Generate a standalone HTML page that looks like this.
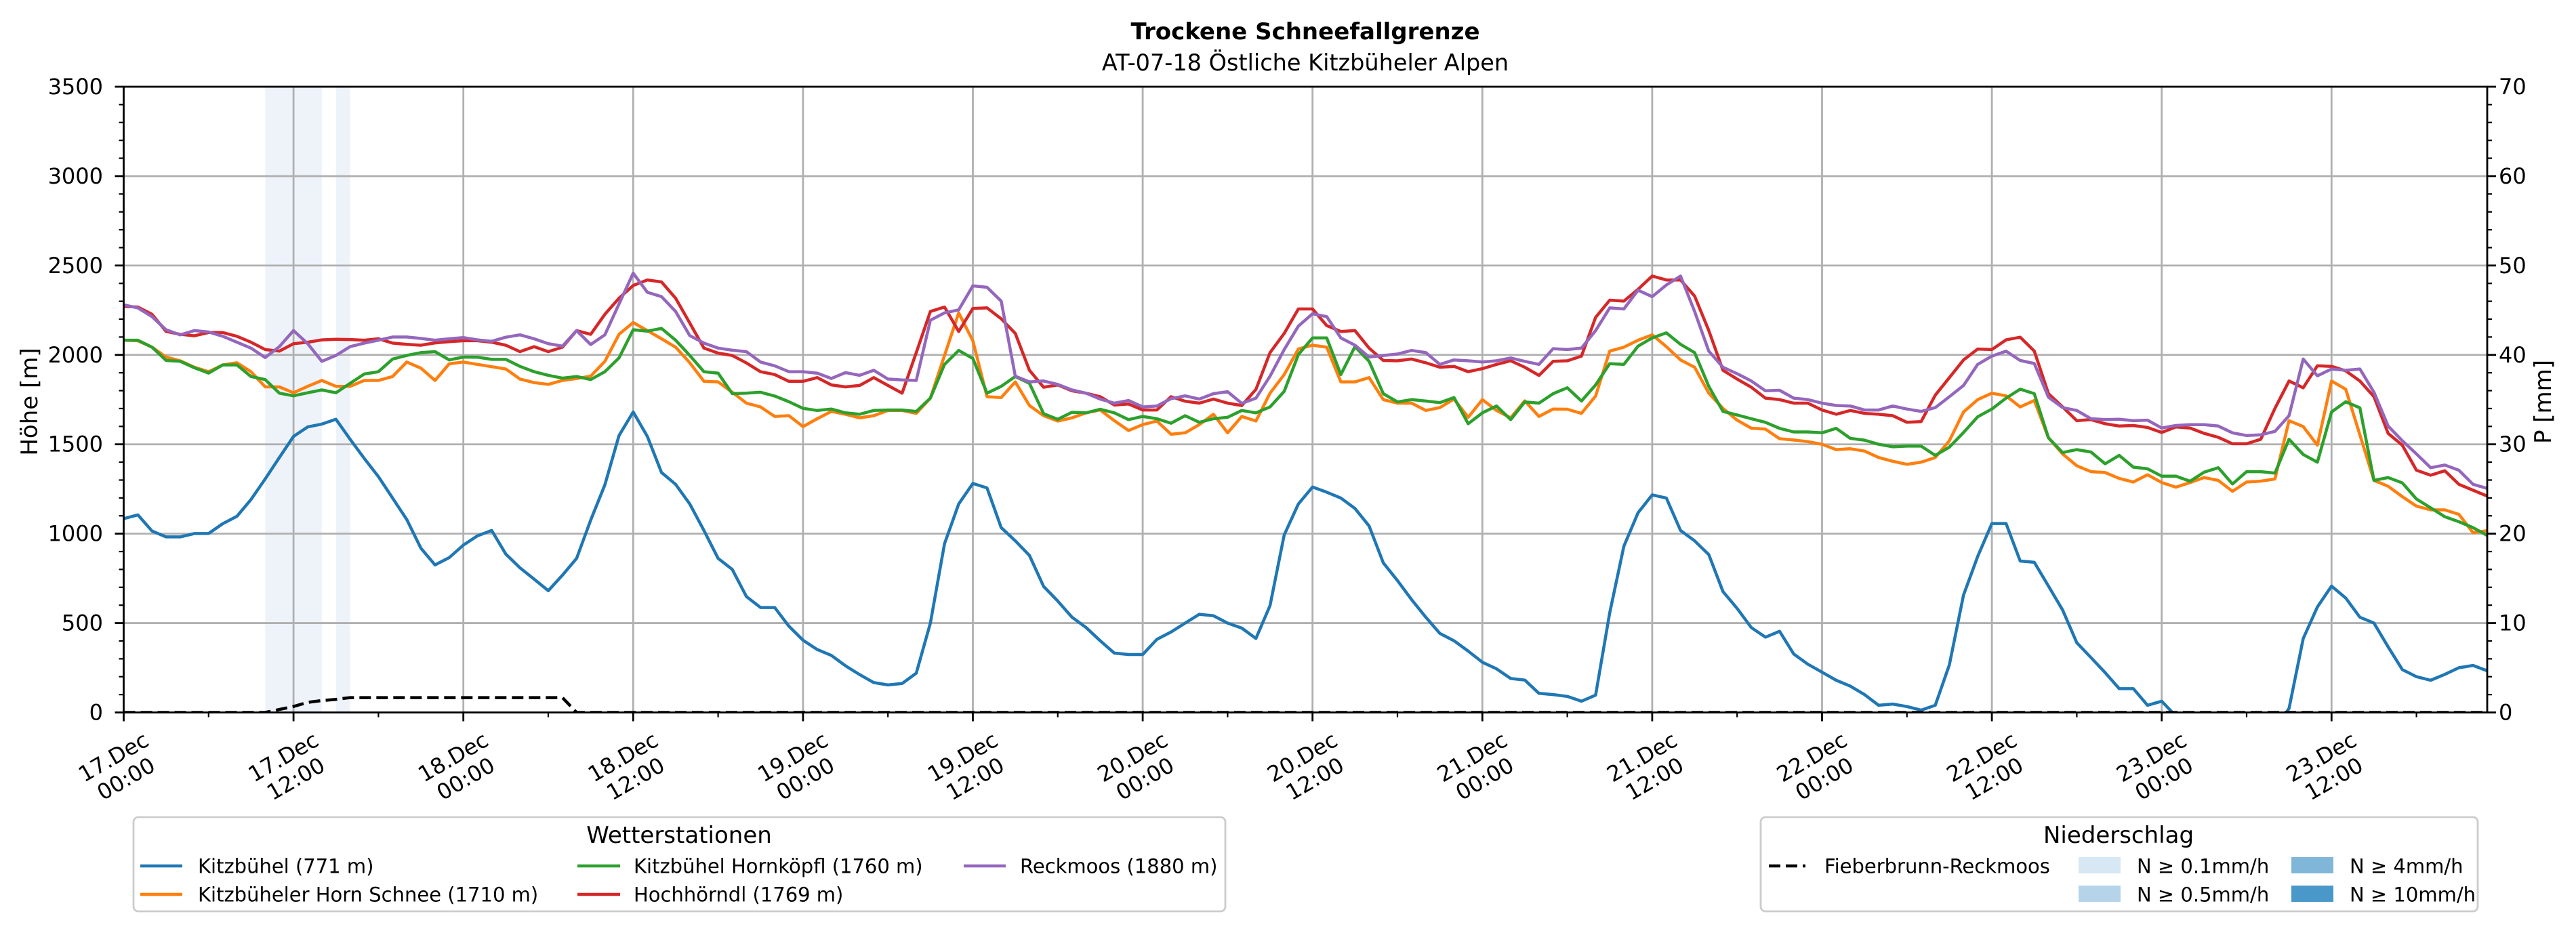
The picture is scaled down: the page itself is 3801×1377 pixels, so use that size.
<!DOCTYPE html>
<html><head><meta charset="utf-8">
<style>
html,body{margin:0;padding:0;background:#fff;}
svg{display:block;font-family:"DejaVu Sans","Liberation Sans",sans-serif;}
</style></head>
<body>
<svg id="chart" width="3801" height="1377" viewBox="0 0 3801 1377" xmlns="http://www.w3.org/2000/svg">
<defs><clipPath id="plotclip"><rect x="182.5" y="128" width="3487.5" height="923.5"/></clipPath></defs>
<text x="1926" y="58" font-size="34" font-weight="bold" text-anchor="middle">Trockene Schneefallgrenze</text>
<text x="1926" y="104" font-size="33.5" text-anchor="middle">AT-07-18 Östliche Kitzbüheler Alpen</text>
<g id="shade"></g>
<g id="grid"></g>
<g id="series" clip-path="url(#plotclip)"></g>
<rect x="182.5" y="128" width="3487.5" height="923.5" fill="none" stroke="#000" stroke-width="2.8"/>
<g id="axes"></g>
<text transform="translate(44,593) rotate(-90)" font-size="34" text-anchor="middle" dominant-baseline="central">Höhe [m]</text>
<text transform="translate(3753,593) rotate(-90)" font-size="34" text-anchor="middle" dominant-baseline="central">P [mm]</text>

<g>
<rect x="197" y="1206" width="1611" height="139" rx="7" fill="#fff" stroke="#cccccc" stroke-width="2.8"/>
<text x="1002" y="1244" font-size="34" text-anchor="middle">Wetterstationen</text>
<g><line x1="207" y1="1278" x2="269" y2="1278" stroke="#1f77b4" stroke-width="4.5"/><text x="292" y="1288.5" font-size="29">Kitzbühel (771 m)</text></g>
<g><line x1="207" y1="1320" x2="269" y2="1320" stroke="#ff7f0e" stroke-width="4.5"/><text x="292" y="1330.5" font-size="29">Kitzbüheler Horn Schnee (1710 m)</text></g>
<g><line x1="852" y1="1278" x2="915" y2="1278" stroke="#2ca02c" stroke-width="4.5"/><text x="935" y="1288.5" font-size="29">Kitzbühel Hornköpfl (1760 m)</text></g>
<g><line x1="852" y1="1320" x2="915" y2="1320" stroke="#d62728" stroke-width="4.5"/><text x="935" y="1330.5" font-size="29">Hochhörndl (1769 m)</text></g>
<g><line x1="1422" y1="1278" x2="1484" y2="1278" stroke="#9467bd" stroke-width="4.5"/><text x="1505" y="1288.5" font-size="29">Reckmoos (1880 m)</text></g>
</g>

<g>
<rect x="2598" y="1206" width="1058" height="139" rx="7" fill="#fff" stroke="#cccccc" stroke-width="2.8"/>
<text x="3126" y="1244" font-size="34" text-anchor="middle">Niederschlag</text>
<g><line x1="2610" y1="1278" x2="2664" y2="1278" stroke="#000" stroke-width="4.5" stroke-dasharray="17,8"/><text x="2692" y="1288.5" font-size="29">Fieberbrunn-Reckmoos</text></g>
<g><rect x="3067" y="1265" width="62" height="24" fill="#d7e7f4"/><text x="3153" y="1288.5" font-size="29">N ≥ 0.1mm/h</text></g>
<g><rect x="3067" y="1307" width="62" height="24" fill="#b6d4e9"/><text x="3153" y="1330.5" font-size="29">N ≥ 0.5mm/h</text></g>
<g><rect x="3381" y="1265" width="62" height="24" fill="#80b7d9"/><text x="3467" y="1288.5" font-size="29">N ≥ 4mm/h</text></g>
<g><rect x="3381" y="1307" width="62" height="24" fill="#4a97c9"/><text x="3467" y="1330.5" font-size="29">N ≥ 10mm/h</text></g>
</g>
</svg>
<script>
const NS="http://www.w3.org/2000/svg";
const xTickLabels=["17.Dec|00:00","17.Dec|12:00","18.Dec|00:00","18.Dec|12:00","19.Dec|00:00","19.Dec|12:00","20.Dec|00:00","20.Dec|12:00","21.Dec|00:00","21.Dec|12:00","22.Dec|00:00","22.Dec|12:00","23.Dec|00:00","23.Dec|12:00"];
const yTicks=[0,500,1000,1500,2000,2500,3000,3500];
const y2Ticks=[0,10,20,30,40,50,60,70];
const kitzbuehel=[1084,1105,1015,982,982,1001,1001,1056,1097,1191,1306,1426,1544,1597,1613,1640,1528,1421,1319,1199,1079,919,825,866,936,988,1018,886,809,746,681,768,862,1076,1273,1549,1681,1544,1342,1276,1166,1018,
862,800,648,587,587,483,404,352,319,261,212,167,154,162,220,500,944,1166,1281,1256,1034,960,878,705,623,533,475,401,332,324,324,409,450,500,549,541,500,472,414,598,993,1166,
1261,1232,1199,1141,1043,837,738,631,533,442,401,343,281,244,190,181,
107,100,90,63,97,557,930,1117,1217,1199,
1018,960,883,676,582,475,421,454,327,270,225,180,
147,100,40,47,33,13,40,267,657,873,1057,1057,847,840,707,573,390,307,223,133,133,40,63,
-20,-100,-100,-100,-100,-100,-100,-100,
23,413,590,707,640,533,500,367,240,200,180,213,250,263,233];
const hochhoerndl=[2271,2268,2227,2131,2115,2107,2125,2125,2104,2071,2030,2021,2063,2071,2084,2087,2086,2082,2090,2066,2059,2054,2067,2074,2079,2079,2071,2054,2018,2046,2018,2043,2136,2115,2227,2317,2388,2419,2408,2317,2178,2038,
2010,
1997,1955,1906,1890,1852,1852,1873,1832,1821,1829,1873,1829,1786,2013,2243,2268,2131,2260,2263,2202,2120,1914,1819,1832,1799,1786,1766,1720,1725,1692,1692,1766,1741,1730,1753,1730,1717,1807,2013,2120,2257,
2257,2164,2131,2136,2038,1969,1967,1977,1956,1931,1936,1906,1923,1947,1967,1931,1885,1964,1967,1993,2210,2306,2301,2367,2441,2419,2419,2329,2136,1914,1865,1819,1758,1750,1730,1730,1692,1668,1689,1673,1668,
1660,
1623,1627,1775,1873,1972,2033,2030,2084,2099,2021,1783,1709,1632,1638,1615,1602,1605,1594,1566,1597,1591,1561,1539,1503,1503,1528,1701,1854,1816,1939,1936,1911,1854,1766,1561,1495,1355,1327,1352,1276,1243,1210];
const reckmoos=[2280,2263,2214,2140,2112,2136,2128,2104,2071,2038,1985,2046,2136,2063,1964,1997,2046,2066,2082,2100,2100,2092,2082,2090,2097,2084,2076,2099,2112,2090,2063,2049,2136,2058,2112,2285,2457,2350,2326,2243,2108,2066,
2038,2026,2018,1960,1939,1906,1906,1898,1868,1901,1886,1914,1865,1860,1857,2194,2235,2252,2386,2378,2301,1881,1849,1854,1835,1804,1786,1753,1730,1745,1709,1714,1755,1771,1753,1783,1794,1729,1758,1881,2030,2161,
2230,2214,2095,2054,1988,1997,2005,2025,2013,1947,1972,1967,1960,1967,1983,1964,1947,2035,2030,2038,2136,2263,2257,2362,2326,2391,2441,2243,2021,1931,1895,1854,1799,1802,1758,1750,1730,1717,1714,1692,1692,1714,
1697,1684,1705,1766,1829,1947,1993,2021,1969,1952,1763,1705,1689,1643,1638,1640,1632,1635,1591,1605,1610,1610,1602,1564,1549,1553,1572,1660,1977,1883,1921,1914,1921,1791,1602,1520,1446,1369,1384,1355,1276,1253];
const hornSchnee=[2082,2079,2043,1988,1967,1931,1906,1944,1956,1906,1821,1821,1788,1824,1857,1824,1824,1857,1857,1879,1960,1926,1857,1950,1960,1947,1934,1921,1865,1845,1835,1857,1868,1881,1964,2115,2181,2136,2090,2043,1956,1852,
1849,1791,1730,1709,1656,1660,1599,1643,1684,1668,1648,1660,1689,1689,1673,1758,1997,2235,2079,1766,1761,1849,1717,1660,1630,1648,1676,1692,1632,1577,1610,1630,1556,1564,1610,1668,1564,1656,1630,1786,1890,2033,
2054,2043,1849,1849,1873,1750,1730,1730,1689,1705,1753,1651,1750,1689,1648,1743,1656,1697,1696,1673,1770,2021,2043,2082,2112,2046,1972,1931,1786,1701,1635,1590,1585,1531,1524,1515,1500,1470,1475,1462,1426,1405,
1388,1400,1426,1520,1681,1750,1786,1771,1709,1745,1536,1446,1380,1347,1342,1309,1289,1330,1286,1260,1286,1314,1298,1237,1289,1294,1306,1632,1599,1495,1854,1808,1553,1298,1265,1207,1154,1133,1133,1108,1006,1017];
const hornkoepfl=[2082,2082,2043,1969,1964,1928,1898,1944,1944,1879,1862,1786,1771,1788,1804,1788,1841,1893,1906,1977,1997,2013,2018,1972,1988,1987,1975,1975,1936,1906,1886,1870,1879,1862,1906,1983,2141,2133,2148,2082,1997,1906,
1898,1783,1786,1791,1770,1738,1701,1689,1697,1676,1668,1689,1692,1692,1684,1758,1947,2025,1980,1786,1824,1879,1841,1671,1640,1679,1676,1696,1676,1638,1656,1643,1618,1660,1623,1643,1651,1689,1676,1709,1796,2002,
2095,2095,1890,2046,1964,1783,1737,1750,1742,1733,1761,1615,1676,1714,1638,1737,1730,1783,1816,1742,1832,1951,1947,2049,2095,2123,2059,2013,1824,1684,1664,1643,1623,1589,1569,1569,1564,1589,1533,1523,1500,1486,
1490,1490,1438,1484,1566,1654,1697,1758,1808,1783,1536,1454,1470,1457,1391,1438,1372,1363,1322,1322,1293,1344,1369,1278,1347,1347,1339,1528,1443,1400,1681,1738,1704,1298,1314,1284,1194,1145,1095,1067,1034,990];
const precipCum=[0,0,0,0,0,0,0,0,0,0,0,0.33,0.67,1.13,1.33,1.46,1.66,1.66,1.66,1.66,1.66,1.66,1.66,1.66,1.66,1.66,1.66,1.66,1.66,1.66,1.66,1.66,
0,0,0,0,0,0,0,0,0,0,0,0,0,0,0,0,0,0,0,0,0,0,0,0,0,0,0,0,0,0,0,0,0,0,0,0,0,0,
0,0,0,0,0,0,0,0,0,0,0,0,0,0,0,0,0,0,0,0,0,0,0,0,0,0,0,0,0,0,0,0,0,0,0,0,0,0,
0,0,0,0,0,0,0,0,0,0,0,0,0,0,0,0,0,0,0,0,0,0,0,0,0,0,0,0,0,0,0,0,0,0,0,0,0,0,
0,0,0,0,0,0,0,0,0,0,0,0,0,0,0,0,0,0,0,0,0,0,0,0,0,0,0,0,0,0,0,0,0,0,0,0,0,0];
const intensityHours=[10,11,12,13,14,15];
const intensityValues=[0.3,0.35,0.45,0.2,0.05,0.15];

const X0=182.5,X1=3670,Y0=1051.5,Y1=128,HMAX=167;
const xs=h=>X0+h*(X1-X0)/HMAX;
const ys=v=>Y0-v*(Y0-Y1)/3500;
const ys2=p=>Y0-p*(Y0-Y1)/70;
function mk(tag,attrs,parent){const e=document.createElementNS(NS,tag);for(const k in attrs)e.setAttribute(k,attrs[k]);parent.appendChild(e);return e;}
const shade=document.getElementById('shade'),grid=document.getElementById('grid'),series=document.getElementById('series'),axes=document.getElementById('axes');

intensityHours.forEach((h,i)=>{const v=intensityValues[i];if(v<0.1)return;
 const c=v>=10?'#4a97c9':v>=4?'#80b7d9':v>=0.5?'#b6d4e9':'#eef3fa';
 const r=mk('rect',{x:xs(h),y:Y1,width:xs(h+1)-xs(h),height:Y0-Y1,fill:c},shade);
 
 });

yTicks.forEach(v=>{if(v>0&&v<3500){const l=mk('line',{x1:X0,x2:X1,y1:ys(v),y2:ys(v),stroke:'#b0b0b0','stroke-width':2.8},grid);
 
 }});
xTickLabels.forEach((t,i)=>{const h=i*12;if(h>0){const l=mk('line',{x1:xs(h),x2:xs(h),y1:Y0,y2:Y1,stroke:'#b0b0b0','stroke-width':2.8},grid);
 
 }});

function addLine(data,color,name,dash,scale){
 const pts=data.map((v,h)=>xs(h).toFixed(1)+','+scale(v).toFixed(1)).join(' ');
 const p=mk('polyline',{points:pts,fill:'none',stroke:color,'stroke-width':4.5,'stroke-linejoin':'round'},series);
 if(dash)p.setAttribute('stroke-dasharray',dash);
 
 }
addLine(kitzbuehel,'#1f77b4','line-kitzbuehel',null,ys);
addLine(hornSchnee,'#ff7f0e','line-horn-schnee',null,ys);
addLine(hornkoepfl,'#2ca02c','line-hornkoepfl',null,ys);
addLine(hochhoerndl,'#d62728','line-hochhoerndl',null,ys);
addLine(reckmoos,'#9467bd','line-reckmoos',null,ys);
addLine(precipCum,'#000','line-precip-fieberbrunn','17,8',ys2);

for(let v=0;v<=3500;v+=100){const maj=v%500===0;
 const t=mk('line',{x1:X0,x2:X0-(maj?13:7),y1:ys(v),y2:ys(v),stroke:'#000','stroke-width':maj?2.8:2.2},axes);
 
 }
yTicks.forEach(v=>{const t=mk('text',{x:152,y:ys(v),'font-size':32,'text-anchor':'end','dominant-baseline':'central'},axes);t.textContent=v;
 
 });
for(let p=0;p<=70;p+=2){const maj=p%10===0;
 const t=mk('line',{x1:X1,x2:X1+(maj?13:7),y1:ys2(p),y2:ys2(p),stroke:'#000','stroke-width':maj?2.8:2.2},axes);
 
 }
y2Ticks.forEach(p=>{const t=mk('text',{x:3687,y:ys2(p),'font-size':32,'text-anchor':'start','dominant-baseline':'central'},axes);t.textContent=p;
 
 });
for(let h=0;h<=HMAX;h+=6){const maj=h%12===0;
 const t=mk('line',{x1:xs(h),x2:xs(h),y1:Y0,y2:Y0+(maj?13:7),stroke:'#000','stroke-width':maj?2.8:2.2},axes);
 
 }
xTickLabels.forEach((s,i)=>{const cx=xs(i*12)-6,cy=1133;const parts=s.split('|');
 const t=mk('text',{transform:`translate(${cx},${cy}) rotate(-30)`,'font-size':32,'text-anchor':'middle'},axes);
 
 
 const a=mk('tspan',{x:0,y:-7},t);a.textContent=parts[0];
 const b=mk('tspan',{x:0,y:30},t);b.textContent=parts[1];});
</script>
</body></html>
